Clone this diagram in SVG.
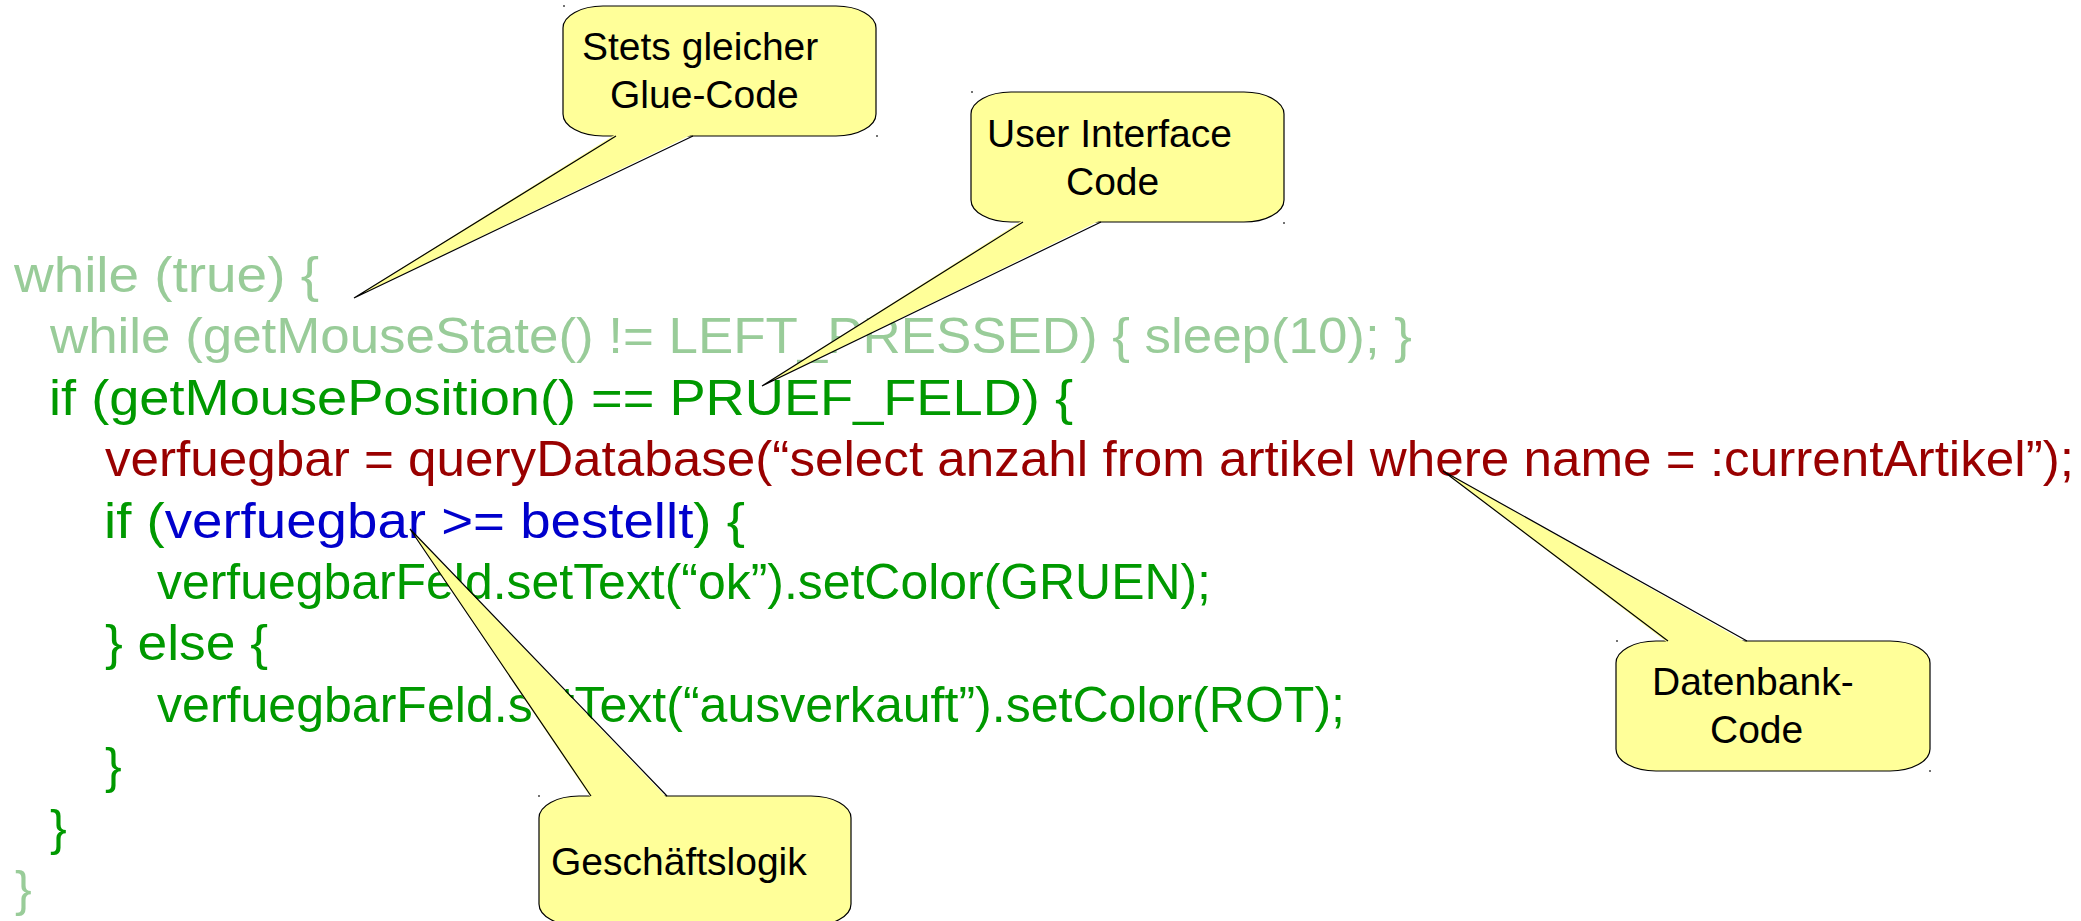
<svg xmlns="http://www.w3.org/2000/svg" width="2081" height="921" viewBox="0 0 2081 921">
<style>
.code{font-family:"Liberation Sans",Arial,sans-serif;font-size:50px}
.lg{fill:#99CC99}
.g{fill:#009900}
.r{fill:#990000}
.b{fill:#0000CC}
.box{fill:#FFFF99;stroke:#000;stroke-width:1.2}
.tailfill{fill:#FFFF99;stroke:none}
.tailline{fill:none;stroke:#000;stroke-width:1.2;stroke-linejoin:miter}
.lbl{font-family:"Liberation Sans",Arial,sans-serif;font-size:39px;fill:#000}
.dot{fill:#444}
</style>
<rect width="2081" height="921" fill="#fff"/>
<g id="code">
<text class="code lg" x="14" y="292" textLength="305" lengthAdjust="spacingAndGlyphs">while (true) {</text>
<text class="code lg" x="50" y="353" textLength="1362" lengthAdjust="spacingAndGlyphs">while (getMouseState() != LEFT_PRESSED) { sleep(10); }</text>
<text class="code g" x="49" y="415" textLength="1024" lengthAdjust="spacingAndGlyphs">if (getMousePosition() == PRUEF_FELD) {</text>
<text class="code r" x="105" y="476" textLength="1969" lengthAdjust="spacingAndGlyphs">verfuegbar = queryDatabase(“select anzahl from artikel where name = :currentArtikel”);</text>
<text class="code g" x="104" y="538" textLength="641" lengthAdjust="spacingAndGlyphs">if (<tspan class="b">verfuegbar &gt;= bestellt</tspan>) {</text>
<text class="code g" x="157" y="599" textLength="1054" lengthAdjust="spacingAndGlyphs">verfuegbarFeld.setText(“ok”).setColor(GRUEN);</text>
<text class="code g" x="105" y="660" textLength="163" lengthAdjust="spacingAndGlyphs">} else {</text>
<text class="code g" x="157" y="722" textLength="1188" lengthAdjust="spacingAndGlyphs">verfuegbarFeld.setText(“ausverkauft”).setColor(ROT);</text>
<text class="code g" x="105" y="783">}</text>
<text class="code g" x="50" y="845">}</text>
<text class="code lg" x="15" y="906">}</text>
</g>
<g id="callout-glue">
<path class="box" d="M603,6 H836 A40,22 0 0 1 876,28 V114 A40,22 0 0 1 836,136 H603 A40,22 0 0 1 563,114 V28 A40,22 0 0 1 603,6 Z"/>
<circle class="dot" cx="564" cy="6" r="1"/>
<circle class="dot" cx="877" cy="136" r="1"/>
<text class="lbl" x="582" y="60">Stets gleicher</text>
<text class="lbl" x="610" y="108">Glue-Code</text>
</g>
<g id="callout-ui">
<path class="box" d="M1011,92 H1244 A40,22 0 0 1 1284,114 V200 A40,22 0 0 1 1244,222 H1011 A40,22 0 0 1 971,200 V114 A40,22 0 0 1 1011,92 Z"/>
<circle class="dot" cx="972" cy="92" r="1"/>
<circle class="dot" cx="1284" cy="223" r="1"/>
<text class="lbl" x="987" y="147">User Interface</text>
<text class="lbl" x="1066" y="195">Code</text>
</g>
<g id="callout-db">
<path class="box" d="M1656,641 H1890 A40,22 0 0 1 1930,663 V749 A40,22 0 0 1 1890,771 H1656 A40,22 0 0 1 1616,749 V663 A40,22 0 0 1 1656,641 Z"/>
<circle class="dot" cx="1617" cy="641" r="1"/>
<circle class="dot" cx="1930" cy="771" r="1"/>
<text class="lbl" x="1652" y="695">Datenbank-</text>
<text class="lbl" x="1710" y="743">Code</text>
</g>
<g id="callout-logik">
<path class="box" d="M579,796 H811 A40,22 0 0 1 851,818 V904 A40,22 0 0 1 811,926 H579 A40,22 0 0 1 539,904 V818 A40,22 0 0 1 579,796 Z"/>
<circle class="dot" cx="539" cy="796" r="1"/>
<text class="lbl" x="551" y="875">Geschäftslogik</text>
</g>
<g id="connectors">
<polygon class="tailfill" points="616,134 354,298 693,134"/>
<polyline class="tailline" points="616,136 354,298 693,136"/>
<polygon class="tailfill" points="1023,220 762,386 1101,220"/>
<polyline class="tailline" points="1023,222 762,386 1101,222"/>
<polygon class="tailfill" points="1668,643 1443,471 1747,643"/>
<polyline class="tailline" points="1668,641 1443,471 1747,641"/>
<polygon class="tailfill" points="591,798 410,529 667,798"/>
<polyline class="tailline" points="591,796 410,529 667,796"/>
</g>
</svg>
